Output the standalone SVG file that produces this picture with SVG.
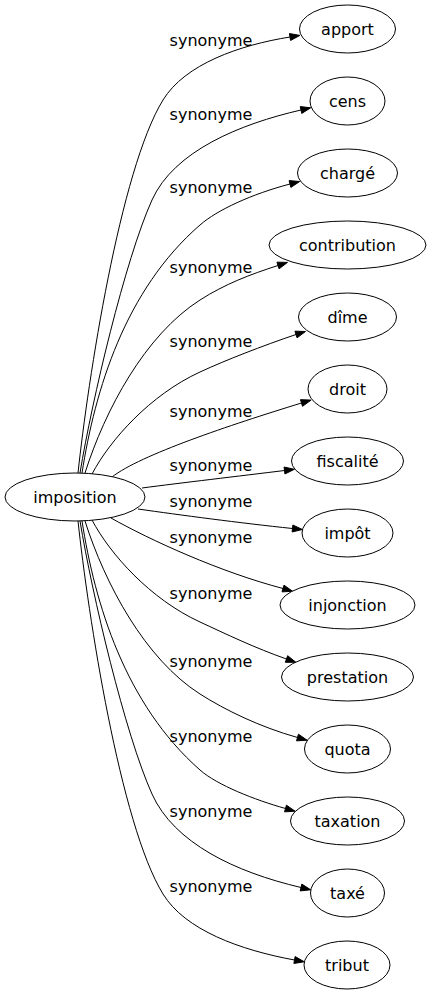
<svg xmlns="http://www.w3.org/2000/svg" width="430" height="995" viewBox="0 0 430 995">
<style>
.node ellipse{fill:#ffffff;stroke:#000000;stroke-width:1}
.node text{font-family:"DejaVu Sans",sans-serif;font-size:16px;fill:#000000;text-anchor:middle}
.edges path{fill:none;stroke:#000000;stroke-width:1}
.edges polygon{fill:#000000;stroke:#000000;stroke-width:1}
.edges text{font-family:"DejaVu Sans",sans-serif;font-size:16px;fill:#000000;text-anchor:middle}
</style>
<rect width="430" height="995" fill="#ffffff"/>
<g id="connectors" class="edges">
<path d="M78,473 C88,380 120,170 163,100 C185,64 240,45 290,37"/>
<polygon points="290.55,40.45 299.9,35.4 289.45,33.55"/>
<text x="211" y="46">synonyme</text>
<path d="M80,473 C92,400 125,260 152,200 C174,151 240,124 301,110"/>
<polygon points="301.78,113.41 310.7,107.8 300.22,106.59"/>
<text x="211" y="120">synonyme</text>
<path d="M82,473 C95,390 125,290 200,225 C217,210 252,194 290,184"/>
<polygon points="290.89,187.39 299.7,181.5 289.11,180.61"/>
<text x="211" y="193">synonyme</text>
<path d="M85,473 C105,410 145,335 200,300 C225,284 250,274.5 278,265.5"/>
<polygon points="279.07,268.83 287.5,262.4 276.93,262.17"/>
<text x="211" y="273">synonyme</text>
<path d="M92,474 C110,440 150,395 200,372 C226,360 262,346 296,334.5"/>
<polygon points="297.05,337.84 305.5,331.5 294.95,331.16"/>
<text x="211" y="347">synonyme</text>
<path d="M112,477 C140,455 230,425 301.5,403"/>
<polygon points="302.53,406.35 311.1,400.1 300.47,399.65"/>
<text x="211" y="417">synonyme</text>
<path d="M142,488 C180,483 240,476 284.5,470.5"/>
<polygon points="284.93,473.97 294.4,469.3 284.07,467.03"/>
<text x="211" y="471">synonyme</text>
<path d="M138,509 C180,515 240,523 292.5,528.5"/>
<polygon points="292.14,531.98 302.4,529.5 292.86,525.02"/>
<text x="211" y="507">synonyme</text>
<path d="M111,518 C150,540 220,572 283,588.5"/>
<polygon points="282.01,591.86 292.6,591.3 283.99,585.14"/>
<text x="211" y="543">synonyme</text>
<path d="M92,520 C110,554 150,599 200,622 C226,634 255,648 286.5,659"/>
<polygon points="285.35,662.3 295.9,662.3 287.65,655.7"/>
<text x="211" y="599">synonyme</text>
<path d="M85,521 C105,584 145,659 200,694 C225,710 260,727 297.5,737.5"/>
<polygon points="296.55,740.87 307.1,740.2 298.45,734.13"/>
<text x="211" y="667">synonyme</text>
<path d="M82,521 C95,604 125,704 200,770 C217,785 255,800 285.5,808.5"/>
<polygon points="284.56,811.87 295.1,811.2 286.44,805.13"/>
<text x="211" y="742">synonyme</text>
<path d="M80,521 C92,594 125,734 152,794 C174,843 235,872 301,887.5"/>
<polygon points="300.2,890.91 310.7,889.8 301.8,884.09"/>
<text x="211" y="817">synonyme</text>
<path d="M78,521 C88,614 120,824 163,894 C185,930 240,950 294.5,960"/>
<polygon points="293.87,963.44 304.3,961.8 295.13,956.56"/>
<text x="211" y="892">synonyme</text>
</g>
<g id="node-imposition" class="node"><ellipse cx="75" cy="497" rx="70" ry="24"/><text x="75" y="502.5">imposition</text></g>
<g id="node-apport" class="node"><ellipse cx="347.5" cy="29" rx="48" ry="24"/><text x="347.5" y="34.5">apport</text></g>
<g id="node-cens" class="node"><ellipse cx="347.5" cy="101" rx="37.5" ry="24"/><text x="347.5" y="106.5">cens</text></g>
<g id="node-charge" class="node"><ellipse cx="347.5" cy="173" rx="50" ry="24"/><text x="347.5" y="178.5">chargé</text></g>
<g id="node-contribution" class="node"><ellipse cx="347.5" cy="245" rx="78.5" ry="24"/><text x="347.5" y="250.5">contribution</text></g>
<g id="node-dime" class="node"><ellipse cx="347.5" cy="317" rx="49" ry="24"/><text x="347.5" y="322.5">dîme</text></g>
<g id="node-droit" class="node"><ellipse cx="347.5" cy="389" rx="39.5" ry="24"/><text x="347.5" y="394.5">droit</text></g>
<g id="node-fiscalite" class="node"><ellipse cx="347.5" cy="461" rx="56" ry="24"/><text x="347.5" y="466.5">fiscalité</text></g>
<g id="node-impot" class="node"><ellipse cx="347.5" cy="533" rx="45.5" ry="24"/><text x="347.5" y="538.5">impôt</text></g>
<g id="node-injonction" class="node"><ellipse cx="347.5" cy="605" rx="67.5" ry="24"/><text x="347.5" y="610.5">injonction</text></g>
<g id="node-prestation" class="node"><ellipse cx="347.5" cy="677" rx="66" ry="24"/><text x="347.5" y="682.5">prestation</text></g>
<g id="node-quota" class="node"><ellipse cx="347.5" cy="749" rx="43" ry="24"/><text x="347.5" y="754.5">quota</text></g>
<g id="node-taxation" class="node"><ellipse cx="347.5" cy="821" rx="57" ry="24"/><text x="347.5" y="826.5">taxation</text></g>
<g id="node-taxe" class="node"><ellipse cx="347.5" cy="893" rx="37" ry="24"/><text x="347.5" y="898.5">taxé</text></g>
<g id="node-tribut" class="node"><ellipse cx="347" cy="965" rx="43" ry="24"/><text x="347" y="970.5">tribut</text></g>
</svg>
